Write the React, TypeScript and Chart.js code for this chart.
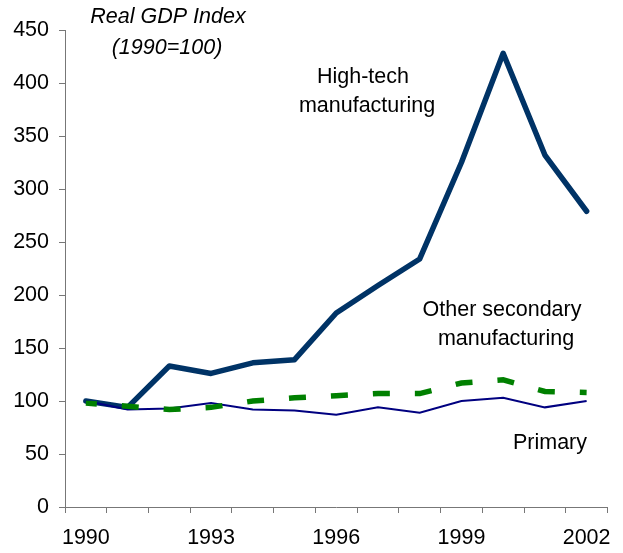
import React, { useEffect, useRef } from "react";
import { Chart, registerables } from "chart.js";

Chart.register(...registerables);

const years = ["1990", "1991", "1992", "1993", "1994", "1995", "1996", "1997", "1998", "1999", "2000", "2001", "2002"];
const highTech = [100, 94, 133, 126, 136, 139, 183, 209, 234, 325, 428, 332, 279];
const otherSecondary = [98, 95, 92, 94, 100, 103, 105, 107, 107, 117, 120, 109, 108];
const primary = [100, 92, 93, 98, 92, 91, 87, 94, 89, 100, 103, 94, 100];
const shownYearLabels = ["1990", "1993", "1996", "1999", "2002"];

const FONT = "'Liberation Sans', Arial, sans-serif";
const FS = 21.5;

const annotations = [
  { lines: ["Real GDP Index", "(1990=100)"], xs: [168, 167], ys: [17, 48], italic: true },
  { lines: ["High-tech", "manufacturing"], xs: [363, 367], ys: [77, 106], italic: false },
  { lines: ["Other secondary", "manufacturing"], xs: [502, 506], ys: [310, 339], italic: false },
  { lines: ["Primary"], xs: [550], ys: [443], italic: false },
];

const textPlugin = {
  id: "textNotes",
  afterDraw(chart: any) {
    const ctx = chart.ctx;
    ctx.save();
    ctx.fillStyle = "#000";
    ctx.textAlign = "center";
    ctx.textBaseline = "middle";
    for (const a of annotations) {
      ctx.font = `${a.italic ? "italic " : ""}${FS}px ${FONT}`;
      a.lines.forEach((t, i) => ctx.fillText(t, a.xs[i], a.ys[i]));
    }
    ctx.restore();
  },
};

export default function App() {
  const ref = useRef<HTMLCanvasElement>(null);
  useEffect(() => {
    document.body.style.margin = "0";
    const chart = new Chart(ref.current as HTMLCanvasElement, {
      type: "line",
      data: {
        labels: years,
        datasets: [
          {
            label: "High-tech manufacturing",
            data: highTech,
            borderColor: "#003366",
            borderWidth: 5.5,
            pointRadius: 0,
            tension: 0,
            borderJoinStyle: "round",
            borderCapStyle: "round",
            order: 3,
          },
          {
            label: "Primary",
            data: primary,
            borderColor: "#000080",
            borderWidth: 2,
            pointRadius: 0,
            tension: 0,
            order: 2,
          },
          {
            label: "Other secondary manufacturing",
            data: otherSecondary,
            borderColor: "#008000",
            borderWidth: 5.5,
            borderDash: [17, 25],
            borderDashOffset: 6,
            borderCapStyle: "butt",
            pointRadius: 0,
            tension: 0,
            order: 1,
          },
        ],
      },
      options: {
        responsive: false,
        animation: false,
        devicePixelRatio: 1,
        layout: { padding: { top: 30, right: 12, left: 0, bottom: 0 } },
        plugins: { legend: { display: false }, tooltip: { enabled: false } },
        scales: {
          x: {
            type: "category",
            offset: true,
            grid: {
              offset: true,
              drawOnChartArea: false,
              drawTicks: true,
              tickLength: 6,
              color: "#777",
              lineWidth: 1,
            },
            border: { display: true, color: "#777", width: 1 },
            ticks: {
              autoSkip: false,
              maxRotation: 0,
              minRotation: 0,
              padding: 12,
              color: "#000",
              font: { family: FONT, size: FS },
              callback: (_v: any, i: number) => (shownYearLabels.includes(years[i]) ? years[i] : ""),
            },
            afterFit: (s: any) => {
              s.height = 46;
            },
          },
          y: {
            min: 0,
            max: 450,
            grid: {
              drawOnChartArea: false,
              drawTicks: true,
              tickLength: 6,
              color: "#777",
            },
            border: { display: true, color: "#777", width: 1 },
            ticks: {
              stepSize: 50,
              padding: 10,
              color: "#000",
              font: { family: FONT, size: FS },
            },
            afterFit: (s: any) => {
              s.width = 65;
            },
          },
        },
      },
      plugins: [textPlugin],
    } as any);
    return () => chart.destroy();
  }, []);
  return <canvas ref={ref} width={623} height={553} style={{ display: "block" }} />;
}
